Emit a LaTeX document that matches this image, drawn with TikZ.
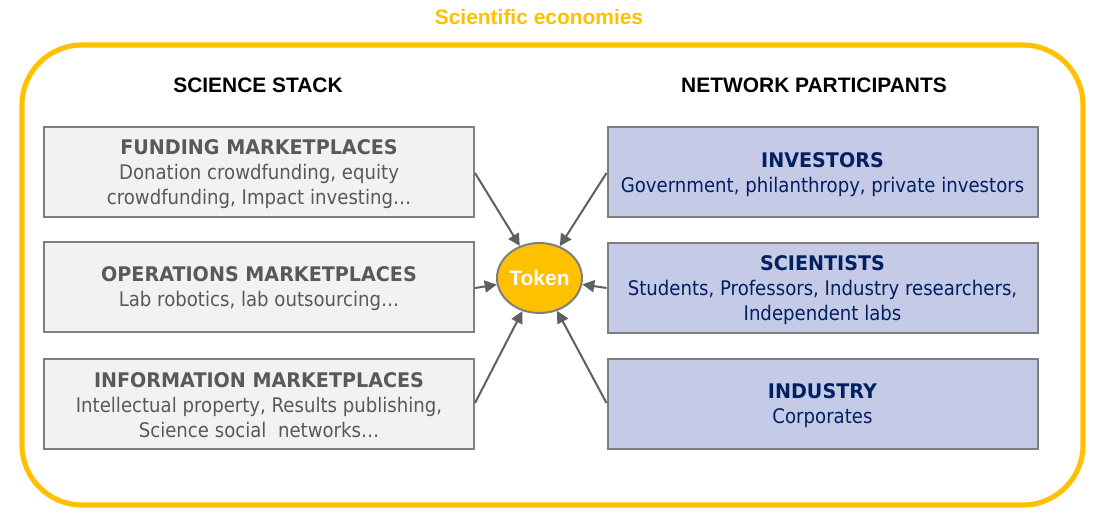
\documentclass[tikz,border=0pt]{standalone}
\usepackage{fontspec}
\setmainfont{DejaVu Sans}[FakeStretch=0.9,BoldFeatures={FakeStretch=0.95}]
\newfontfamily\arialfont{Liberation Sans}
\usetikzlibrary{arrows.meta,shapes.geometric}
\definecolor{gold}{HTML}{FFC000}
\definecolor{boxgray}{HTML}{F2F2F2}
\definecolor{edgegray}{HTML}{7F7F7F}
\definecolor{txtgray}{HTML}{595959}
\definecolor{lav}{HTML}{C5CAE6}
\definecolor{navy}{HTML}{002060}
\definecolor{arrgray}{HTML}{5F5F5F}
\tikzset{
  leftbox/.style={draw=edgegray, line width=1.5pt, fill=boxgray, minimum width=430*0.75pt, minimum height=90*0.75pt, inner sep=0pt, align=center, text=txtgray, font=\fontsize{15.1}{18.75}\selectfont},
  rightbox/.style={leftbox, fill=lav, text=navy},
  conn/.style={draw=arrgray, line width=1.5pt, -{Triangle[length=9pt,width=9pt]}},
  header/.style={font=\arialfont\bfseries\fontsize{15.7}{18}\selectfont, text=black}
}
\begin{document}
\begin{tikzpicture}[x=0.75pt,y=-0.75pt]
\useasboundingbox (0,0) rectangle (1110,531);
\node[font=\arialfont\bfseries\fontsize{15.7}{18}\selectfont, text=gold] (title) at (539,17) {Scientific economies};
\draw[gold, line width=3.8pt, rounded corners=45pt] (22,45) rectangle (1083,505);
\node[header] (hl) at (258,85) {SCIENCE STACK};
\node[header] (hr) at (814,85) {NETWORK PARTICIPANTS};
\node[leftbox] (fund) at (259,172) {};
\node[leftbox] (oper) at (259,287) {};
\node[leftbox] (info) at (259,403.5) {};
\node[rightbox] (inv) at (822.5,172) {};
\node[rightbox] (sci) at (822.5,288) {};
\node[rightbox] (ind) at (822.5,403.5) {};
\node[leftbox, draw=none, fill=none, minimum height=0pt] (fundt) at (259,174) {\textbf{FUNDING MARKETPLACES}\\Donation crowdfunding, equity\\crowdfunding, Impact investing…};
\node[leftbox, draw=none, fill=none, minimum height=0pt] (opert) at (259,289) {\textbf{OPERATIONS MARKETPLACES}\\Lab robotics, lab outsourcing…};
\node[leftbox, draw=none, fill=none, minimum height=0pt] (infot) at (259,405) {\textbf{INFORMATION MARKETPLACES}\\Intellectual property, Results publishing,\\Science social\ \ networks…};
\node[rightbox, draw=none, fill=none, minimum height=0pt] (invt) at (822.5,174.5) {\textbf{INVESTORS}\\Government, philanthropy, private investors};
\node[rightbox, draw=none, fill=none, minimum height=0pt] (scit) at (822.5,290) {\textbf{SCIENTISTS}\\Students, Professors, Industry researchers,\\Independent labs};
\node[rightbox, draw=none, fill=none, minimum height=0pt] (indt) at (822.5,405.5) {\textbf{INDUSTRY}\\Corporates};
\node[draw=edgegray, line width=1.5pt, fill=gold, ellipse, minimum width=77*0.75pt, minimum height=70*0.75pt, inner sep=0pt, text=white, font=\arialfont\bfseries\fontsize{15.7}{18}\selectfont] (tok) at (539.5,278) {Token};
\draw[conn] (fund.east |- 0,173) -- (tok);
\draw[conn] (oper.east |- 0,288) -- (tok);
\draw[conn] (info.east |- 0,403) -- (tok);
\draw[conn] (inv.west |- 0,173) -- (tok);
\draw[conn] (sci.west |- 0,288) -- (tok);
\draw[conn] (ind.west |- 0,403) -- (tok);
\end{tikzpicture}
\end{document}
